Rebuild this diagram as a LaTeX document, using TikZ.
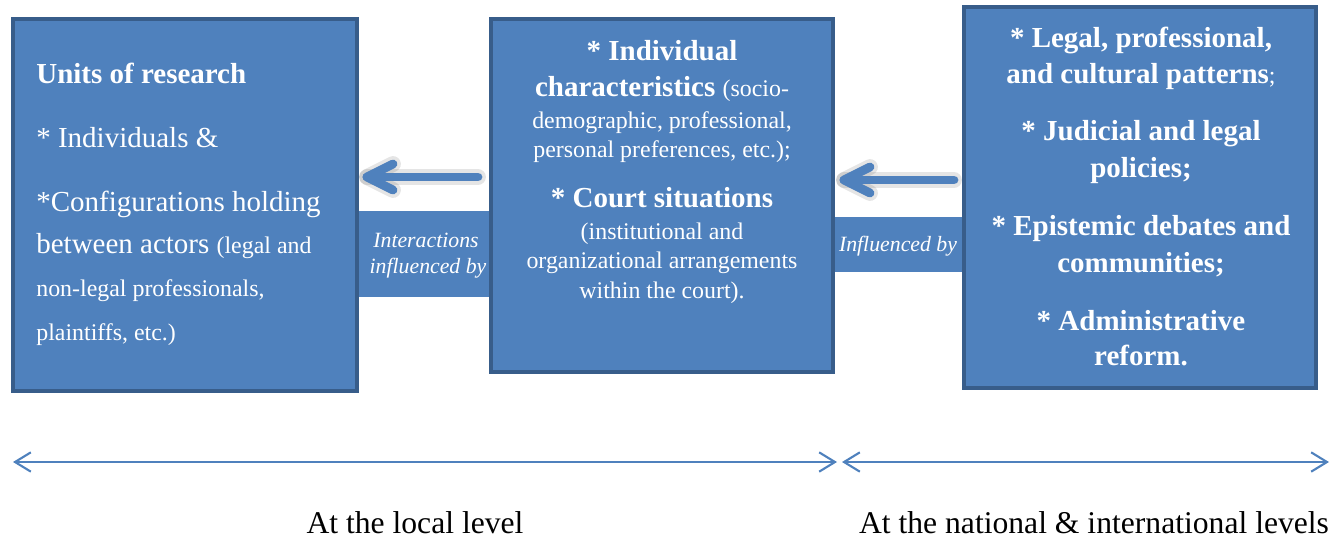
\documentclass[tikz,border=0pt]{standalone}
\usepackage{fontspec}
\setmainfont{LiberationSerif}[Extension=.ttf, UprightFont=*-Regular, BoldFont=*-Bold, ItalicFont=*-Italic, BoldItalicFont=*-BoldItalic]
\usetikzlibrary{arrows.meta,fit}
\definecolor{boxfill}{HTML}{4F81BD}
\definecolor{boxline}{HTML}{385D8A}
\newcommand\bigf{\fontsize{16.5}{20}\selectfont}
\newcommand\smf{\fontsize{13.6}{16}\selectfont}
\newcommand\itf{\fontsize{12.4}{15}\selectfont\itshape}
\newcommand\lvf{\fontsize{18}{22}\selectfont}
\begin{document}
\begin{tikzpicture}[x=0.02cm,y=-0.02cm,
  box/.style={draw=boxline, fill=boxfill, line width=2.3pt, inner sep=0pt},
  band/.style={fill=boxfill, draw=none, inner sep=0pt},
  lt/.style={text=white, inner sep=0pt, anchor=base west},
  ct/.style={text=white, inner sep=0pt, anchor=base},
  bigarrow/.style={draw=boxfill, line width=5pt, line cap=round, line join=round},
  arrshadow/.style={draw=black, opacity=0.10, line width=9pt, line cap=round, line join=round},
  level/.style={draw=boxfill, line width=1.2pt, >={Straight Barb[length=9pt,width=11pt]}, <->},
  lvtext/.style={text=black, inner sep=0pt, anchor=base, font=\lvf}]
\useasboundingbox (0,0) rectangle (1335,542);

% connector bands
\node[band, fit={(355,211) (493,297)}] (band1) {};
\node[band, fit={(831,217) (966,272)}] (band2) {};

% boxes
\node[box, fit={(13,19) (357,391)}] (b1) {};
\node[box, fit={(491,19) (833,372)}] (b2) {};
\node[box, fit={(964,7) (1316,388)}] (b3) {};

% arrow 1
\coordinate (a1s) at (478,177);
\coordinate (a1e) at (367,177);
\begin{scope}[shift={(3,5)}]
\draw[arrshadow] (a1s) -- (a1e);
\draw[arrshadow] (a1e) ++(26,-13) -- (a1e) -- ++(26,13);
\end{scope}
\draw[bigarrow] (a1s) -- (a1e);
\draw[bigarrow] (a1e) ++(26,-13) -- (a1e) -- ++(26,13);

% arrow 2
\coordinate (a2s) at (954,180);
\coordinate (a2e) at (844,180);
\begin{scope}[shift={(3,5)}]
\draw[arrshadow] (a2s) -- (a2e);
\draw[arrshadow] (a2e) ++(26,-13) -- (a2e) -- ++(26,13);
\end{scope}
\draw[bigarrow] (a2s) -- (a2e);
\draw[bigarrow] (a2e) ++(26,-13) -- (a2e) -- ++(26,13);

% box 1 text
\node[lt, font=\bigf\bfseries] (t1a) at (36,83) {Units of research};
\node[lt, font=\bigf] (t1b) at (36,147) {* Individuals \&};
\node[lt, font=\bigf] (t1c) at (36,211) {*Configurations holding};
\node[lt, font=\bigf] (t1d) at (36,253) {between actors {\smf (legal and}};
\node[lt, font=\smf] (t1e) at (36,296) {non-legal professionals,};
\node[lt, font=\smf] (t1f) at (36,340) {plaintiffs, etc.)};

% box 2 text
\node[ct, font=\bigf\bfseries] (t2a) at (662,60) {* Individual};
\node[ct, font=\bigf] (t2b) at (662,96) {\bfseries characteristics {\mdseries\smf (socio-}};
\node[ct, font=\smf] (t2c) at (662,128) {demographic, professional,};
\node[ct, font=\smf] (t2d) at (662,157) {personal preferences, etc.);};
\node[ct, font=\bigf\bfseries] (t2e) at (662,207) {* Court situations};
\node[ct, font=\smf] (t2f) at (662,239) {(institutional and};
\node[ct, font=\smf] (t2g) at (662,268) {organizational arrangements};
\node[ct, font=\smf] (t2h) at (662,298) {within the court).};

% box 3 text
\node[ct, font=\bigf\bfseries] (t3a) at (1141,47) {* Legal, professional,};
\node[ct, font=\bigf\bfseries] (t3b) at (1141,83) {and cultural patterns{\mdseries\smf;}};
\node[ct, font=\bigf\bfseries] (t3c) at (1141,140) {* Judicial and legal};
\node[ct, font=\bigf\bfseries] (t3d) at (1141,177) {policies;};
\node[ct, font=\bigf\bfseries] (t3e) at (1141,235) {* Epistemic debates and};
\node[ct, font=\bigf\bfseries] (t3f) at (1141,272) {communities;};
\node[ct, font=\bigf\bfseries] (t3g) at (1141,330) {* Administrative};
\node[ct, font=\bigf\bfseries] (t3h) at (1141,365) {reform.};

% band labels
\node[ct, font=\itf] (l1a) at (426,247) {Interactions};
\node[ct, font=\itf] (l1b) at (428,273) {influenced by};
\node[ct, font=\itf] (l2a) at (898,251) {Influenced by};

% level arrows
\coordinate (lvA) at (13,462);
\coordinate (lvB) at (837,462);
\coordinate (lvC) at (842,462);
\coordinate (lvD) at (1329,462);
\draw[level] (lvA) -- (lvB);
\draw[level] (lvC) -- (lvD);
\node[lvtext] (lv1) at (415,533) {At the local level};
\node[lvtext] (lv2) at (1094,533) {At the national \& international levels};
\end{tikzpicture}
\end{document}
